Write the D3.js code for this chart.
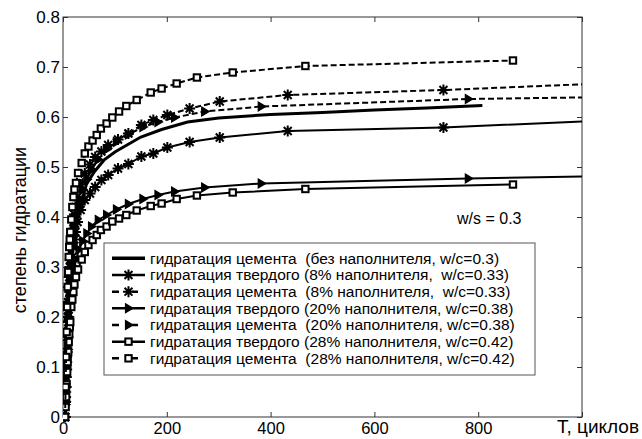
<!DOCTYPE html>
<html>
<head>
<meta charset="utf-8">
<script src="https://cdn.jsdelivr.net/npm/d3@7"></script>
<style>
  body { margin: 0; background: #fff; }
  svg { width: 642px; height: 439px; display: block; }
  text { font-family: "Liberation Sans", Arial, sans-serif; fill: #000; }
</style>
</head>
<body>
<svg></svg>
<script>
// отсчёты времени (циклы) для каждого набора маркеров
const tPlain = [5, 6, 7, 8, 10, 12, 15, 20, 25, 30, 45, 60, 80, 100, 125, 150, 190, 240, 300, 400, 500, 600, 700, 808];
const tStars = [4, 5, 6, 7, 8, 9, 10, 11, 12, 13, 14, 16, 18, 20, 22, 24, 28, 34, 42, 52, 62, 74, 87, 106, 126, 151, 174, 201, 244, 302, 433, 733, 1040];
const tTriangles = [4, 5, 6, 7, 8, 9, 10, 11, 12, 13, 14, 16, 18, 20, 22, 25, 31, 38, 46, 55, 68, 84, 103, 126, 154, 183, 215, 273, 382, 781, 1060];
const tSquares = [4, 5, 6, 7, 8, 9, 10, 11, 12, 13, 14, 16, 18, 20, 22, 25, 29, 36, 42, 49, 57, 65, 73, 84, 95, 108, 122, 142, 169, 190, 219, 258, 327, 467, 867];

// степень гидратации
const cementPlain = [0, 0.04, 0.08, 0.12, 0.18, 0.23, 0.29, 0.35, 0.385, 0.41, 0.465, 0.49, 0.515, 0.53, 0.545, 0.56, 0.575, 0.59, 0.598, 0.605, 0.609, 0.614, 0.618, 0.623];
const solid8 = [0, 0.03, 0.06, 0.095, 0.13, 0.16, 0.19, 0.215, 0.235, 0.25, 0.265, 0.30, 0.32, 0.34, 0.355, 0.37, 0.39, 0.414, 0.434, 0.447, 0.46, 0.474, 0.484, 0.497, 0.506, 0.521, 0.527, 0.539, 0.550, 0.559, 0.572, 0.579, 0.593];
const cement8 = [0, 0.04, 0.08, 0.12, 0.16, 0.20, 0.23, 0.26, 0.28, 0.30, 0.315, 0.35, 0.37, 0.39, 0.405, 0.42, 0.44, 0.465, 0.487, 0.505, 0.52, 0.531, 0.544, 0.555, 0.567, 0.584, 0.594, 0.604, 0.617, 0.631, 0.644, 0.654, 0.667];
const solid20 = [0, 0.025, 0.05, 0.08, 0.11, 0.135, 0.16, 0.18, 0.20, 0.22, 0.235, 0.26, 0.275, 0.29, 0.30, 0.315, 0.335, 0.352, 0.367, 0.381, 0.394, 0.404, 0.415, 0.426, 0.436, 0.444, 0.451, 0.459, 0.467, 0.477, 0.482];
const cement20 = [0, 0.03, 0.06, 0.10, 0.14, 0.17, 0.20, 0.225, 0.25, 0.27, 0.285, 0.32, 0.345, 0.365, 0.38, 0.40, 0.43, 0.455, 0.475, 0.495, 0.515, 0.535, 0.55, 0.565, 0.58, 0.59, 0.599, 0.611, 0.621, 0.636, 0.640];
const solid28 = [0, 0.02, 0.04, 0.065, 0.09, 0.11, 0.13, 0.15, 0.165, 0.18, 0.19, 0.22, 0.235, 0.25, 0.265, 0.28, 0.295, 0.315, 0.33, 0.344, 0.354, 0.364, 0.374, 0.381, 0.391, 0.397, 0.404, 0.413, 0.422, 0.427, 0.436, 0.443, 0.449, 0.456, 0.465];
const cement28 = [0, 0.06, 0.12, 0.17, 0.22, 0.26, 0.29, 0.32, 0.34, 0.355, 0.37, 0.395, 0.42, 0.44, 0.455, 0.468, 0.488, 0.508, 0.527, 0.541, 0.553, 0.564, 0.577, 0.587, 0.599, 0.611, 0.622, 0.634, 0.649, 0.657, 0.667, 0.679, 0.689, 0.702, 0.713];

const legendLabels = [
    "гидратация цемента  (без наполнителя, w/c=0.3)",
    "гидратация твердого (8% наполнителя,  w/c=0.33)",
    "гидратация цемента  (8% наполнителя,  w/c=0.33)",
    "гидратация твердого (20% наполнителя, w/c=0.38)",
    "гидратация цемента  (20% наполнителя, w/c=0.38)",
    "гидратация твердого (28% наполнителя, w/c=0.42)",
    "гидратация цемента  (28% наполнителя, w/c=0.42)"
];

const xTicks = [0, 200, 400, 600, 800, 1000];
const xTickLabels = ["0", "200", "400", "600", "800", ""];
const yTicks = [0, 0.1, 0.2, 0.3, 0.4, 0.5, 0.6, 0.7, 0.8];
const yTickLabels = ["0", "0.1", "0.2", "0.3", "0.4", "0.5", "0.6", "0.7", "0.8"];

// серии: данные + оформление
const series = [
    {t: tPlain, v: cementPlain, marker: null, dash: null, width: 3},
    {t: tStars, v: solid8, marker: "star", dash: null, width: 2},
    {t: tStars, v: cement8, marker: "star", dash: "6,3", width: 2},
    {t: tTriangles, v: solid20, marker: "tri", dash: null, width: 2},
    {t: tTriangles, v: cement20, marker: "tri", dash: "6,3", width: 2},
    {t: tSquares, v: solid28, marker: "square", dash: null, width: 2},
    {t: tSquares, v: cement28, marker: "square", dash: "6,3", width: 2}
];

let svg = d3.select("svg");

let attr_area = {
    left: 63,
    right: 582,
    top: 17,
    bottom: 417
};

const scX = d3.scaleLinear().domain([0, 1000]).range([attr_area.left, attr_area.right]);
const scY = d3.scaleLinear().domain([0, 0.8]).range([attr_area.bottom, attr_area.top]);

function drawMarker(g, type, x, y) {
    if (type === "star") {
        const r = 5.5;
        const d = r * 0.72;
        g.append("path")
            .attr("d", `M${x - r},${y}L${x + r},${y}M${x},${y - r}L${x},${y + r}` +
                       `M${x - d},${y - d}L${x + d},${y + d}M${x - d},${y + d}L${x + d},${y - d}`)
            .attr("stroke", "#000")
            .attr("stroke-width", 2)
            .attr("fill", "none");
    } else if (type === "square") {
        g.append("rect")
            .attr("x", x - 3.2).attr("y", y - 3.2)
            .attr("width", 6.4).attr("height", 6.4)
            .attr("fill", "#fff")
            .attr("stroke", "#000")
            .attr("stroke-width", 2);
    } else if (type === "tri") {
        g.append("path")
            .attr("d", `M${x - 3},${y - 4.5}L${x + 4.5},${y}L${x - 3},${y + 4.5}Z`)
            .attr("fill", "#000")
            .attr("stroke", "#000")
            .attr("stroke-width", 1.2);
    }
}

function createAxis() {
    const w = attr_area.right - attr_area.left;
    const h = attr_area.bottom - attr_area.top;

    // рамка
    svg.append("rect")
        .attr("x", attr_area.left).attr("y", attr_area.top)
        .attr("width", w).attr("height", h)
        .attr("fill", "none")
        .attr("stroke", "#333")
        .attr("stroke-width", 1);

    // деления внутрь, как в MATLAB
    const axB = d3.axisBottom(scX).tickValues(xTicks).tickSizeInner(-5).tickSizeOuter(0)
        .tickFormat((d, i) => xTickLabels[i]);
    const axT = d3.axisTop(scX).tickValues(xTicks).tickSizeInner(-5).tickSizeOuter(0).tickFormat("");
    const axL = d3.axisLeft(scY).tickValues(yTicks).tickSizeInner(-5).tickSizeOuter(0)
        .tickFormat((d, i) => yTickLabels[i]);
    const axR = d3.axisRight(scY).tickValues(yTicks).tickSizeInner(-5).tickSizeOuter(0).tickFormat("");

    const gB = svg.append("g").attr("transform", `translate(0,${attr_area.bottom})`).call(axB);
    gB.selectAll("text").attr("dy", null).attr("y", 17).style("font-size", "16.5px")
        .style("font-family", '"Liberation Sans", Arial, sans-serif');
    svg.append("g").attr("transform", `translate(0,${attr_area.top})`).call(axT);
    const gL = svg.append("g").attr("transform", `translate(${attr_area.left},0)`).call(axL);
    gL.selectAll("text").attr("x", -3).attr("dy", "0.35em").style("font-size", "17px")
        .style("font-family", '"Liberation Sans", Arial, sans-serif');
    svg.append("g").attr("transform", `translate(${attr_area.right},0)`).call(axR);

    svg.selectAll(".domain").remove();
    svg.selectAll(".tick line").attr("stroke", "#333");

    // подписи осей
    svg.append("text")
        .attr("transform", `translate(26,${(attr_area.top + attr_area.bottom) / 2 + 13}) rotate(-90)`)
        .attr("text-anchor", "middle")
        .style("font-size", "18px")
        .text("степень гидратации");

    svg.append("text")
        .attr("x", 639).attr("y", 433)
        .attr("text-anchor", "end")
        .style("font-size", "19px")
        .text("Т, циклов");

    svg.append("text")
        .attr("x", 457).attr("y", 224)
        .style("font-size", "16px")
        .text("w/s = 0.3");
}

function createChart() {
    svg.append("clipPath").attr("id", "plotClip")
        .append("rect")
        .attr("x", attr_area.left).attr("y", attr_area.top - 5)
        .attr("width", attr_area.right - attr_area.left)
        .attr("height", attr_area.bottom - attr_area.top + 10);

    const plot = svg.append("g").attr("clip-path", "url(#plotClip)");

    const line = d3.line()
        .x(d => scX(d[0]))
        .y(d => scY(d[1]));

    series.forEach(s => {
        const pts = s.t.map((t, i) => [t, s.v[i]]);
        plot.append("path")
            .datum(pts)
            .attr("d", line)
            .attr("fill", "none")
            .attr("stroke", "#000")
            .attr("stroke-width", s.width)
            .attr("stroke-dasharray", s.dash);
        if (s.marker) {
            const mg = plot.append("g");
            pts.forEach(p => drawMarker(mg, s.marker, scX(p[0]), scY(p[1])));
        }
    });
}

function createLegend() {
    const box = {x: 104, y: 243, w: 431, h: 132};
    const g = svg.append("g");
    g.append("rect")
        .attr("x", box.x).attr("y", box.y)
        .attr("width", box.w).attr("height", box.h)
        .attr("fill", "#fff")
        .attr("stroke", "#555")
        .attr("stroke-width", 1);

    const rowH = 16.67;
    series.forEach((s, i) => {
        const cy = 258.3 + i * rowH;
        g.append("line")
            .attr("x1", 112).attr("x2", 145)
            .attr("y1", cy).attr("y2", cy)
            .attr("stroke", "#000")
            .attr("stroke-width", s.width + 0.5)
            .attr("stroke-dasharray", s.dash ? "7,13,6" : null);
        if (s.marker) drawMarker(g, s.marker, 128.5, cy);
        g.append("text")
            .attr("x", 150).attr("y", cy + 5.5)
            .style("font-size", "15.5px")
            .style("white-space", "pre")
            .attr("xml:space", "preserve")
            .text(legendLabels[i]);
    });
}

createAxis();
createChart();
createLegend();
</script>
</body>
</html>
